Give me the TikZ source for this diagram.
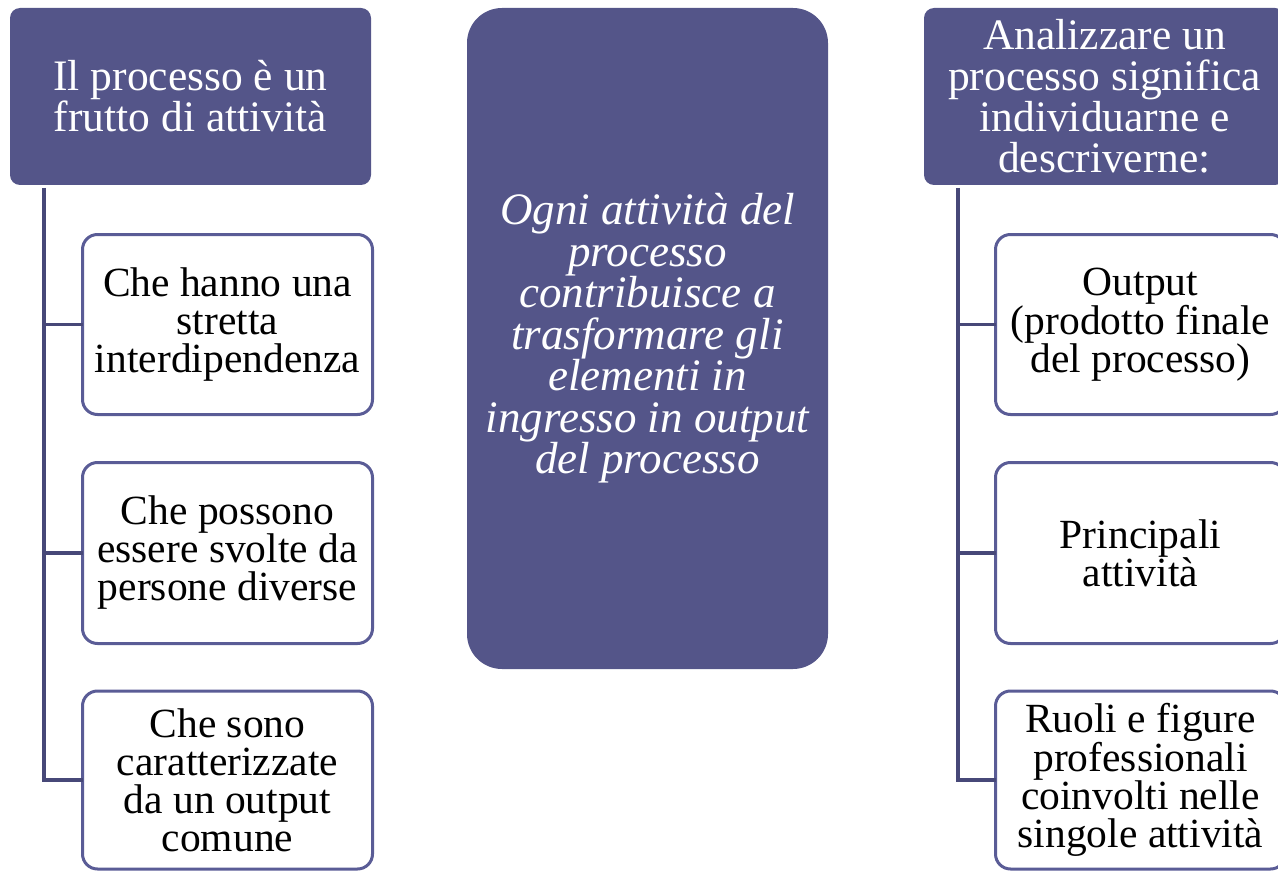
\documentclass[tikz,border=0pt]{standalone}
\usepackage{fontspec}
\setmainfont{Liberation Serif}
\definecolor{hdrfill}{HTML}{545589}
\definecolor{boxline}{HTML}{5A5C96}
\definecolor{connline}{HTML}{474878}
\tikzset{
  hdr/.style={fill=hdrfill, draw=none, rounded corners=10pt, text=white, align=center,
    inner sep=0pt, outer sep=0pt, minimum width=361pt, minimum height=177pt,
    font=\fontsize{43.5}{41}\selectfont},
  midbox/.style={fill=hdrfill, draw=none, rounded corners=35pt, text=white, align=center,
    inner sep=0pt, outer sep=0pt, minimum width=361pt, minimum height=661pt,
    font=\fontsize{45}{41.5}\selectfont\itshape},
  childbox/.style={fill=white, draw=boxline, line width=3pt, rounded corners=15pt, align=center,
    inner sep=0pt, outer sep=0pt, minimum width=290pt, text=black,
    font=\fontsize{41.5}{38}\selectfont},
  conn/.style={draw=connline, line width=3.5pt}
}
\begin{document}
\begin{tikzpicture}[x=1pt,y=-1pt]
\useasboundingbox (0,0) rectangle (1278,872);
\clip (0,0) rectangle (1278,872);
% left column
\node[hdr] (hL) at (190.5,96.5) {Il processo è un\\frutto di attività};
\node[childbox, minimum height=180pt] (l1) at (227.5,324.5) {Che hanno una\\stretta\\interdipendenza};
\node[childbox, minimum height=181pt] (l2) at (227.5,553) {Che possono\\essere svolte da\\persone diverse};
\node[childbox, minimum height=178pt] (l3) at (227.5,780) {Che sono\\caratterizzate\\da un output\\comune};
\coordinate (lT) at ([xshift=34pt,yshift=-3pt]hL.south west);
\draw[conn] (lT) |- (l3.west);
\draw[conn] (l1.west -| lT) -- (l1.west);
\draw[conn] (l2.west -| lT) -- (l2.west);
% centre
\node[midbox] (mid) at (647.5,338.5) {Ogni attività del\\processo\\contribuisce a\\trasformare gli\\elementi in\\ingresso in output\\del processo};
% right column
\node[hdr] (hR) at (1104.5,96.5) {Analizzare un\\processo significa\\individuarne e\\descriverne:};
\node[childbox, minimum height=180pt] (r1) at (1140.5,324.5) {Output\\(prodotto finale\\del processo)};
\node[childbox, minimum height=181pt] (r2) at (1140.5,553) {Principali\\attività};
\node[childbox, minimum height=178pt] (r3) at (1140.5,780) {Ruoli e figure\\professionali\\coinvolti nelle\\singole attività};
\coordinate (rT) at ([xshift=34pt,yshift=-3pt]hR.south west);
\draw[conn] (rT) |- (r3.west);
\draw[conn] (r1.west -| rT) -- (r1.west);
\draw[conn] (r2.west -| rT) -- (r2.west);
\end{tikzpicture}
\end{document}
